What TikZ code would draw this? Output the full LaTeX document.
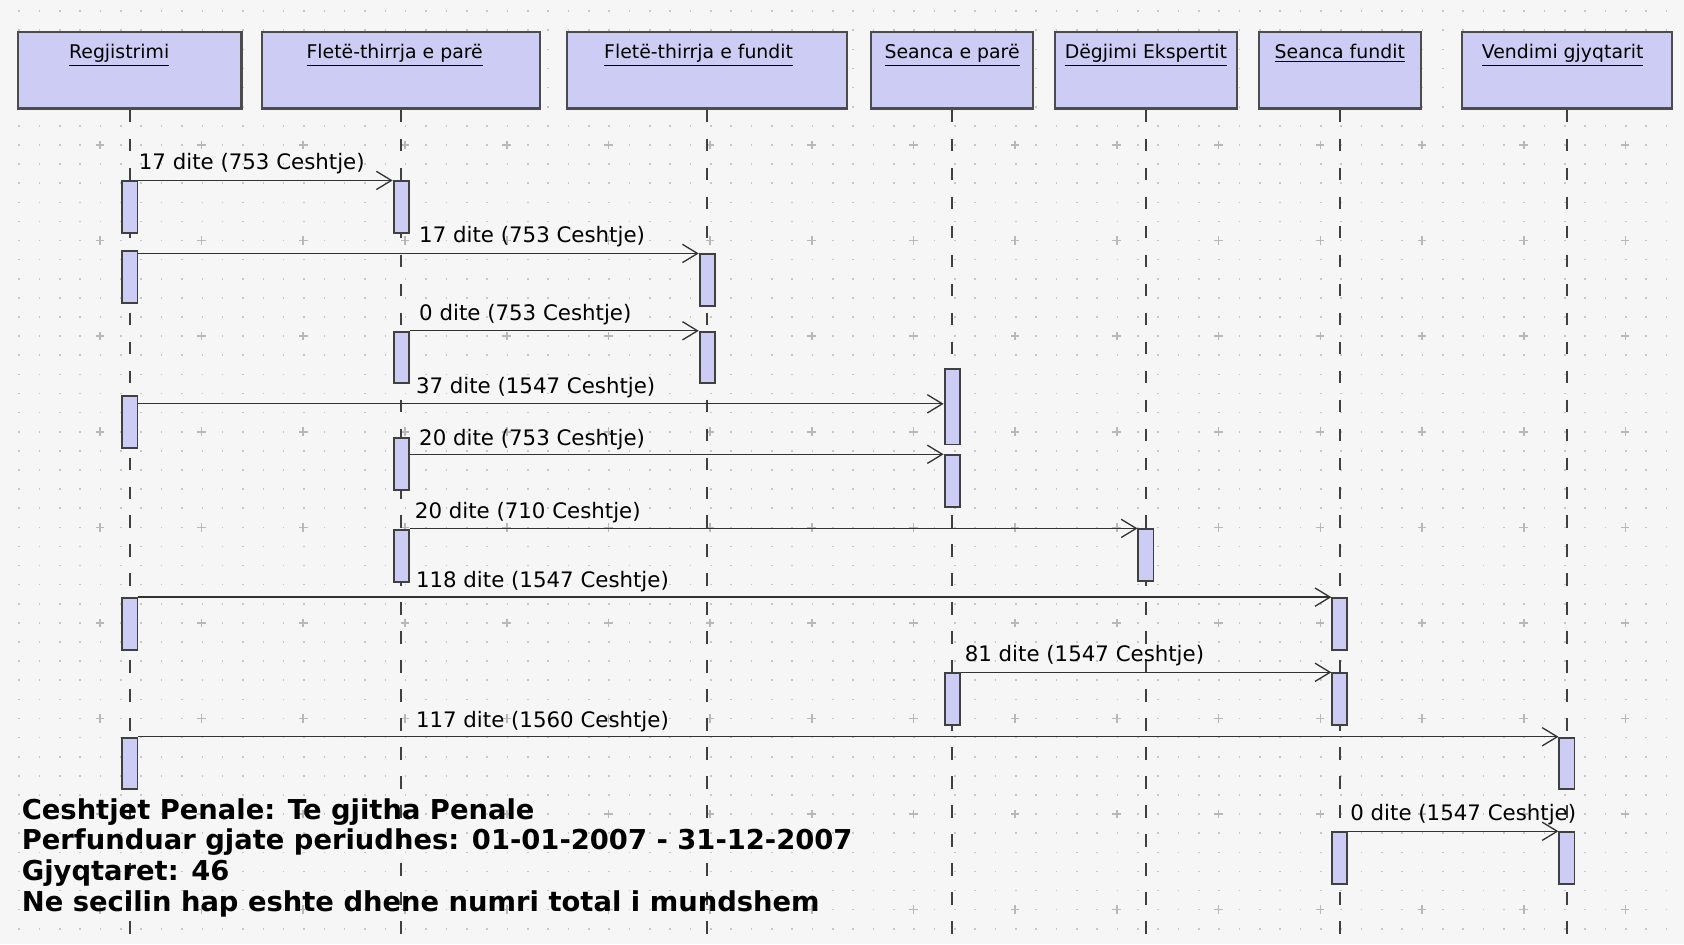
\documentclass[tikz,border=0pt]{standalone}
\usepackage{fontspec}
\setmainfont{DejaVu Sans}
\usetikzlibrary{arrows.meta,positioning}

\definecolor{lavender}{RGB}{204,204,245}
\definecolor{bggray}{RGB}{246,246,246}

\tikzset{
  hdr/.style={draw=black!70, line width=1.2pt, fill=lavender, minimum height=1.42cm, inner sep=0pt},
  hdrtxt/.style={font=\fontsize{10}{12}\selectfont, inner sep=0pt},
  life/.style={black!75, line width=1.1pt, dash pattern=on 0.24cm off 0.3cm},
  act/.style={draw=black!75, line width=1pt, fill=lavender, minimum width=0.28cm, minimum height=0.96cm, inner sep=0pt, anchor=north},
  msg/.style={-{Straight Barb[length=0.28cm,width=0.34cm]}, line width=0.7pt, black!80},
  lbl/.style={font=\fontsize{11.3}{13}\selectfont, inner sep=0pt, anchor=base west},
  note/.style={font=\bfseries\fontsize{14.5}{16}\selectfont, inner sep=0pt, anchor=base west},
  griddot/.style={black!22, line width=0.03cm, dash pattern=on 0.03cm off 0.3488cm},
  gridplus/.style={black!28, line width=0.03cm}
}

\begin{document}
\begin{tikzpicture}[x=0.02cm, y=-0.02cm]
  \useasboundingbox (0,0) rectangle (1568,879);

  % 背景
  \fill[bggray] (0,0) rectangle (1568,879);
  \foreach \r in {0,...,48}
    \draw[griddot] (17.2,10.4+17.8*\r) -- (1568,10.4+17.8*\r);
  \foreach \r in {0,...,8}
    \draw[gridplus, dash pattern=on 0.16cm off 1.734cm] (89,135+89*\r) -- (1568,135+89*\r);
  \foreach \c in {0,...,15}
    \draw[gridplus, dash pattern=on 0.16cm off 1.62cm] (93+94.7*\c,131) -- (93+94.7*\c,879);

  % ヘッダー
  \node[hdr, minimum width=4.16cm] (reg) at (121,65.5) {};
  \node[hdr, minimum width=5.18cm] (fp) at (373.5,65.5) {};
  \node[hdr, minimum width=5.22cm] (ff) at (658.5,65.5) {};
  \node[hdr, minimum width=3.02cm] (sp) at (886.5,65.5) {};
  \node[hdr, minimum width=3.4cm] (de) at (1067,65.5) {};
  \node[hdr, minimum width=3.02cm] (sf) at (1247.5,65.5) {};
  \node[hdr, minimum width=3.92cm] (vg) at (1459,65.5) {};

  \node[hdrtxt, below=0.24cm of reg.north, xshift=-0.2cm] (regtxt) {\underline{Regjistrimi}};
  \node[hdrtxt, below=0.24cm of fp.north, xshift=-0.12cm] (fptxt) {\underline{Fletë-thirrja e parë}};
  \node[hdrtxt, below=0.24cm of ff.north, xshift=-0.16cm] (fftxt) {\underline{Fletë-thirrja e fundit}};
  \node[hdrtxt, below=0.24cm of sp.north] (sptxt) {\underline{Seanca e parë}};
  \node[hdrtxt, below=0.24cm of de.north] (detxt) {\underline{Dëgjimi Ekspertit}};
  \node[hdrtxt, below=0.24cm of sf.north] (sftxt) {\underline{Seanca fundit}};
  \node[hdrtxt, below=0.24cm of vg.north, xshift=-0.08cm] (vgtxt) {\underline{Vendimi gjyqtarit}};

  % ライフライン
  \draw[life] (reg.south) -- (reg.south |- 0,879);
  \draw[life] (fp.south) -- (fp.south |- 0,879);
  \draw[life] (ff.south) -- (ff.south |- 0,879);
  \draw[life] (sp.south) -- (sp.south |- 0,879);
  \draw[life] (de.south) -- (de.south |- 0,879);
  \draw[life] (sf.south) -- (sf.south |- 0,879);
  \draw[life] (vg.south) -- (vg.south |- 0,879);

  % 活性化バー
  \node[act] (reg1) at (reg.south |- 0,168) {};
  \node[act] (reg2) at (reg.south |- 0,233) {};
  \node[act] (reg3) at (reg.south |- 0,368) {};
  \node[act] (reg4) at (reg.south |- 0,556) {};
  \node[act] (reg5) at (reg.south |- 0,686) {};
  \node[act] (fp1) at (fp.south |- 0,168) {};
  \node[act] (fp2) at (fp.south |- 0,308) {};
  \node[act] (fp3) at (fp.south |- 0,407) {};
  \node[act] (fp4) at (fp.south |- 0,493) {};
  \node[act] (ff1) at (ff.south |- 0,236) {};
  \node[act] (ff2) at (ff.south |- 0,308) {};
  \node[act, minimum height=1.4cm] (sp1) at (sp.south |- 0,343) {};
  \node[act] (sp2) at (sp.south |- 0,423) {};
  \node[act] (sp3) at (sp.south |- 0,626) {};
  \node[act] (de1) at (de.south |- 0,492) {};
  \node[act] (sf1) at (sf.south |- 0,556) {};
  \node[act] (sf2) at (sf.south |- 0,626) {};
  \node[act] (sf3) at (sf.south |- 0,774) {};
  \node[act] (vg1) at (vg.south |- 0,686) {};
  \node[act] (vg2) at (vg.south |- 0,774) {};

  % メッセージ
  \draw[msg] (reg1.east |- 0,168) -- (fp1.west |- 0,168);
  \draw[msg] (reg2.east |- 0,236) -- (ff1.west |- 0,236);
  \draw[msg] (fp2.east |- 0,308) -- (ff2.west |- 0,308);
  \draw[msg] (reg3.east |- 0,376) -- (sp1.west |- 0,376);
  \draw[msg] (fp3.east |- 0,423) -- (sp2.west |- 0,423);
  \draw[msg] (fp4.east |- 0,492) -- (de1.west |- 0,492);
  \draw[msg] (reg4.east |- 0,556) -- (sf1.west |- 0,556);
  \draw[msg] (sp3.east |- 0,626) -- (sf2.west |- 0,626);
  \draw[msg] (reg5.east |- 0,686) -- (vg1.west |- 0,686);
  \draw[msg] (sf3.east |- 0,774) -- (vg2.west |- 0,774);

  % ラベル
  \node[lbl] (m1) at (129,158) {17 dite (753 Ceshtje)};
  \node[lbl] (m2) at (390,226) {17 dite (753 Ceshtje)};
  \node[lbl] (m3) at (390,298) {0 dite (753 Ceshtje)};
  \node[lbl] (m4) at (387,366) {37 dite (1547 Ceshtje)};
  \node[lbl] (m5) at (390,415) {20 dite (753 Ceshtje)};
  \node[lbl] (m6) at (386,483) {20 dite (710 Ceshtje)};
  \node[lbl] (m7) at (387,547) {118 dite (1547 Ceshtje)};
  \node[lbl] (m8) at (898,616) {81 dite (1547 Ceshtje)};
  \node[lbl] (m9) at (387,677) {117 dite (1560 Ceshtje)};
  \node[lbl] (m10) at (1257,764) {0 dite (1547 Ceshtje)};

  % 注記
  \node[note] (n1) at (20,763) {Ceshtjet Penale: Te gjitha Penale};
  \node[note] (n2) at (20,791) {Perfunduar gjate periudhes: 01-01-2007 - 31-12-2007};
  \node[note] (n3) at (20,820) {Gjyqtaret: 46};
  \node[note] (n4) at (20,849) {Ne secilin hap eshte dhene numri total i mundshem};
\end{tikzpicture}
\end{document}
